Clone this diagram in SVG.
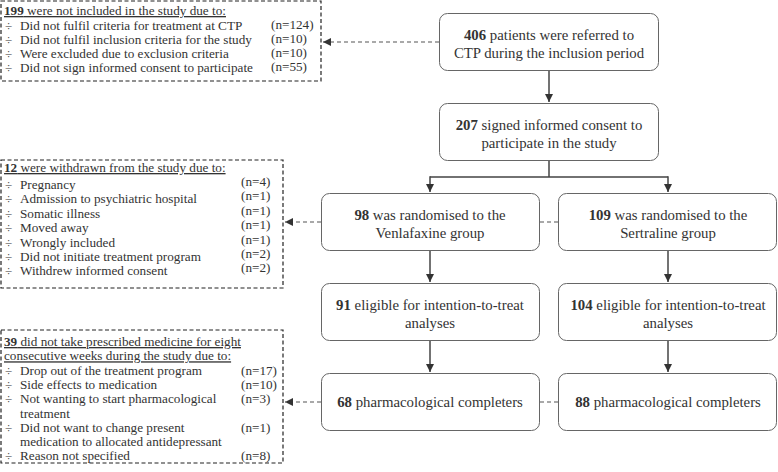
<svg xmlns="http://www.w3.org/2000/svg" width="778" height="472" viewBox="0 0 778 472">
<style>
.bg{fill:#ffffff}
.node rect{fill:#ffffff;stroke:#666666;stroke-width:1}
.nt{font-family:"Liberation Serif",serif;font-size:14.8px;fill:#333333;text-anchor:middle}
.lt{font-family:"Liberation Serif",serif;font-size:13.2px;fill:#333333}
.b{font-weight:bold}
.u{text-decoration:underline}
.dbox rect{fill:#ffffff;stroke:#222222;stroke-width:1.2;stroke-dasharray:4 2.5}
.solid{stroke:#444444;stroke-width:1.5;fill:none}
.dash{stroke:#555555;stroke-width:1.2;stroke-dasharray:4 3;fill:none}
</style>
<defs>
<marker id="ah" viewBox="0 0 10 10" refX="10" refY="5" markerWidth="9" markerHeight="8" markerUnits="userSpaceOnUse" orient="auto">
<path d="M0,0 L10,5 L0,10 z" fill="#333333"/>
</marker>
</defs>
<rect class="bg" x="0" y="0" width="778" height="472"/>

<g id="connectors">
<path class="solid" d="M549,70 V102" marker-end="url(#ah)"/>
<path class="solid" d="M549,160 V177 M430,177 H668"/>
<path class="solid" d="M430,176.25 V192" marker-end="url(#ah)"/>
<path class="solid" d="M668,176.25 V192" marker-end="url(#ah)"/>
<path class="solid" d="M430,250 V282" marker-end="url(#ah)"/>
<path class="solid" d="M668,250 V282" marker-end="url(#ah)"/>
<path class="solid" d="M430,340 V372" marker-end="url(#ah)"/>
<path class="solid" d="M668,340 V372" marker-end="url(#ah)"/>
<path class="dash" d="M439,42 H323" marker-end="url(#ah)"/>
<path class="dash" d="M321,222 H285" marker-end="url(#ah)"/>
<path class="dash" d="M558,222 H539"/>
<path class="dash" d="M321,402 H285" marker-end="url(#ah)"/>
<path class="dash" d="M558,402 H539"/>
</g>

<g id="excl1" class="dbox">
<rect x="1" y="1" width="320" height="80"/>
<text class="lt" x="4" y="15"><tspan class="b u">199</tspan><tspan class="u"> were not included in the study due to:</tspan></text>
<text class="lt" x="5" y="29.5">÷</text><text class="lt" x="20" y="29.5">Did not fulfil criteria for treatment at CTP</text><text class="lt" x="271" y="28.5">(n=124)</text>
<text class="lt" x="5" y="43.5">÷</text><text class="lt" x="20" y="43.5">Did not fulfil inclusion criteria for the study</text><text class="lt" x="271" y="42.5">(n=10)</text>
<text class="lt" x="5" y="58">÷</text><text class="lt" x="20" y="58">Were excluded due to exclusion criteria</text><text class="lt" x="271" y="57">(n=10)</text>
<text class="lt" x="5" y="72">÷</text><text class="lt" x="20" y="72">Did not sign informed consent to participate</text><text class="lt" x="271" y="71">(n=55)</text>
</g>

<g id="excl2" class="dbox">
<rect x="1" y="160" width="282" height="128"/>
<text class="lt" x="4" y="172"><tspan class="b u">12</tspan><tspan class="u"> were withdrawn from the study due to:</tspan></text>
<text class="lt" x="5" y="189">÷</text><text class="lt" x="20" y="189">Pregnancy</text><text class="lt" x="241" y="186">(n=4)</text>
<text class="lt" x="5" y="203.4">÷</text><text class="lt" x="20" y="203.4">Admission to psychiatric hospital</text><text class="lt" x="241" y="200.4">(n=1)</text>
<text class="lt" x="5" y="217.8">÷</text><text class="lt" x="20" y="217.8">Somatic illness</text><text class="lt" x="241" y="214.8">(n=1)</text>
<text class="lt" x="5" y="232.2">÷</text><text class="lt" x="20" y="232.2">Moved away</text><text class="lt" x="241" y="229.2">(n=1)</text>
<text class="lt" x="5" y="246.6">÷</text><text class="lt" x="20" y="246.6">Wrongly included</text><text class="lt" x="241" y="243.6">(n=1)</text>
<text class="lt" x="5" y="261">÷</text><text class="lt" x="20" y="261">Did not initiate treatment program</text><text class="lt" x="241" y="258">(n=2)</text>
<text class="lt" x="5" y="275.4">÷</text><text class="lt" x="20" y="275.4">Withdrew informed consent</text><text class="lt" x="241" y="272.4">(n=2)</text>
</g>

<g id="excl3" class="dbox">
<rect x="1" y="330" width="282" height="133"/>
<text class="lt" x="4" y="346"><tspan class="b u">39</tspan><tspan class="u"> did not take prescribed medicine for eight</tspan></text>
<text class="lt u" x="4" y="360.3">consecutive weeks during the study due to:</text>
<text class="lt" x="5" y="374.6">÷</text><text class="lt" x="20" y="374.6">Drop out of the treatment program</text><text class="lt" x="241" y="374.6">(n=17)</text>
<text class="lt" x="5" y="388.9">÷</text><text class="lt" x="20" y="388.9">Side effects to medication</text><text class="lt" x="241" y="388.9">(n=10)</text>
<text class="lt" x="5" y="403.2">÷</text><text class="lt" x="20" y="403.2">Not wanting to start pharmacological</text><text class="lt" x="241" y="403.2">(n=3)</text>
<text class="lt" x="20" y="417.5">treatment</text>
<text class="lt" x="5" y="431.8">÷</text><text class="lt" x="20" y="431.8">Did not want to change present</text><text class="lt" x="241" y="431.8">(n=1)</text>
<text class="lt" x="20" y="446.1">medication to allocated antidepressant</text>
<text class="lt" x="5" y="460.4">÷</text><text class="lt" x="20" y="460.4">Reason not specified</text><text class="lt" x="241" y="460.4">(n=8)</text>
</g>

<g id="n406" class="node">
<rect x="439.5" y="13.5" width="219" height="57" rx="8"/>
<text class="nt" x="549" y="39.5"><tspan class="b">406</tspan> patients were referred to</text>
<text class="nt" x="549" y="57.5">CTP during the inclusion period</text>
</g>
<g id="n207" class="node">
<rect x="439.5" y="103.5" width="219" height="57" rx="8"/>
<text class="nt" x="549" y="129.5"><tspan class="b">207</tspan> signed informed consent to</text>
<text class="nt" x="549" y="147.5">participate in the study</text>
</g>
<g id="n98" class="node">
<rect x="321.5" y="193.5" width="218" height="57" rx="8"/>
<text class="nt" x="430" y="219.5"><tspan class="b">98</tspan> was randomised to the</text>
<text class="nt" x="430" y="237.5">Venlafaxine group</text>
</g>
<g id="n109" class="node">
<rect x="558.5" y="193.5" width="218" height="57" rx="8"/>
<text class="nt" x="668" y="219.5"><tspan class="b">109</tspan> was randomised to the</text>
<text class="nt" x="668" y="237.5">Sertraline group</text>
</g>
<g id="n91" class="node">
<rect x="321.5" y="283.5" width="218" height="57" rx="8"/>
<text class="nt" x="430" y="309.5"><tspan class="b">91</tspan> eligible for intention-to-treat</text>
<text class="nt" x="430" y="327.5">analyses</text>
</g>
<g id="n104" class="node">
<rect x="558.5" y="283.5" width="218" height="57" rx="8"/>
<text class="nt" x="668" y="309.5"><tspan class="b">104</tspan> eligible for intention-to-treat</text>
<text class="nt" x="668" y="327.5">analyses</text>
</g>
<g id="n68" class="node">
<rect x="321.5" y="373.5" width="218" height="57" rx="8"/>
<text class="nt" x="430" y="407"><tspan class="b">68</tspan> pharmacological completers</text>
</g>
<g id="n88" class="node">
<rect x="558.5" y="373.5" width="218" height="57" rx="8"/>
<text class="nt" x="668" y="407"><tspan class="b">88</tspan> pharmacological completers</text>
</g>
</svg>
